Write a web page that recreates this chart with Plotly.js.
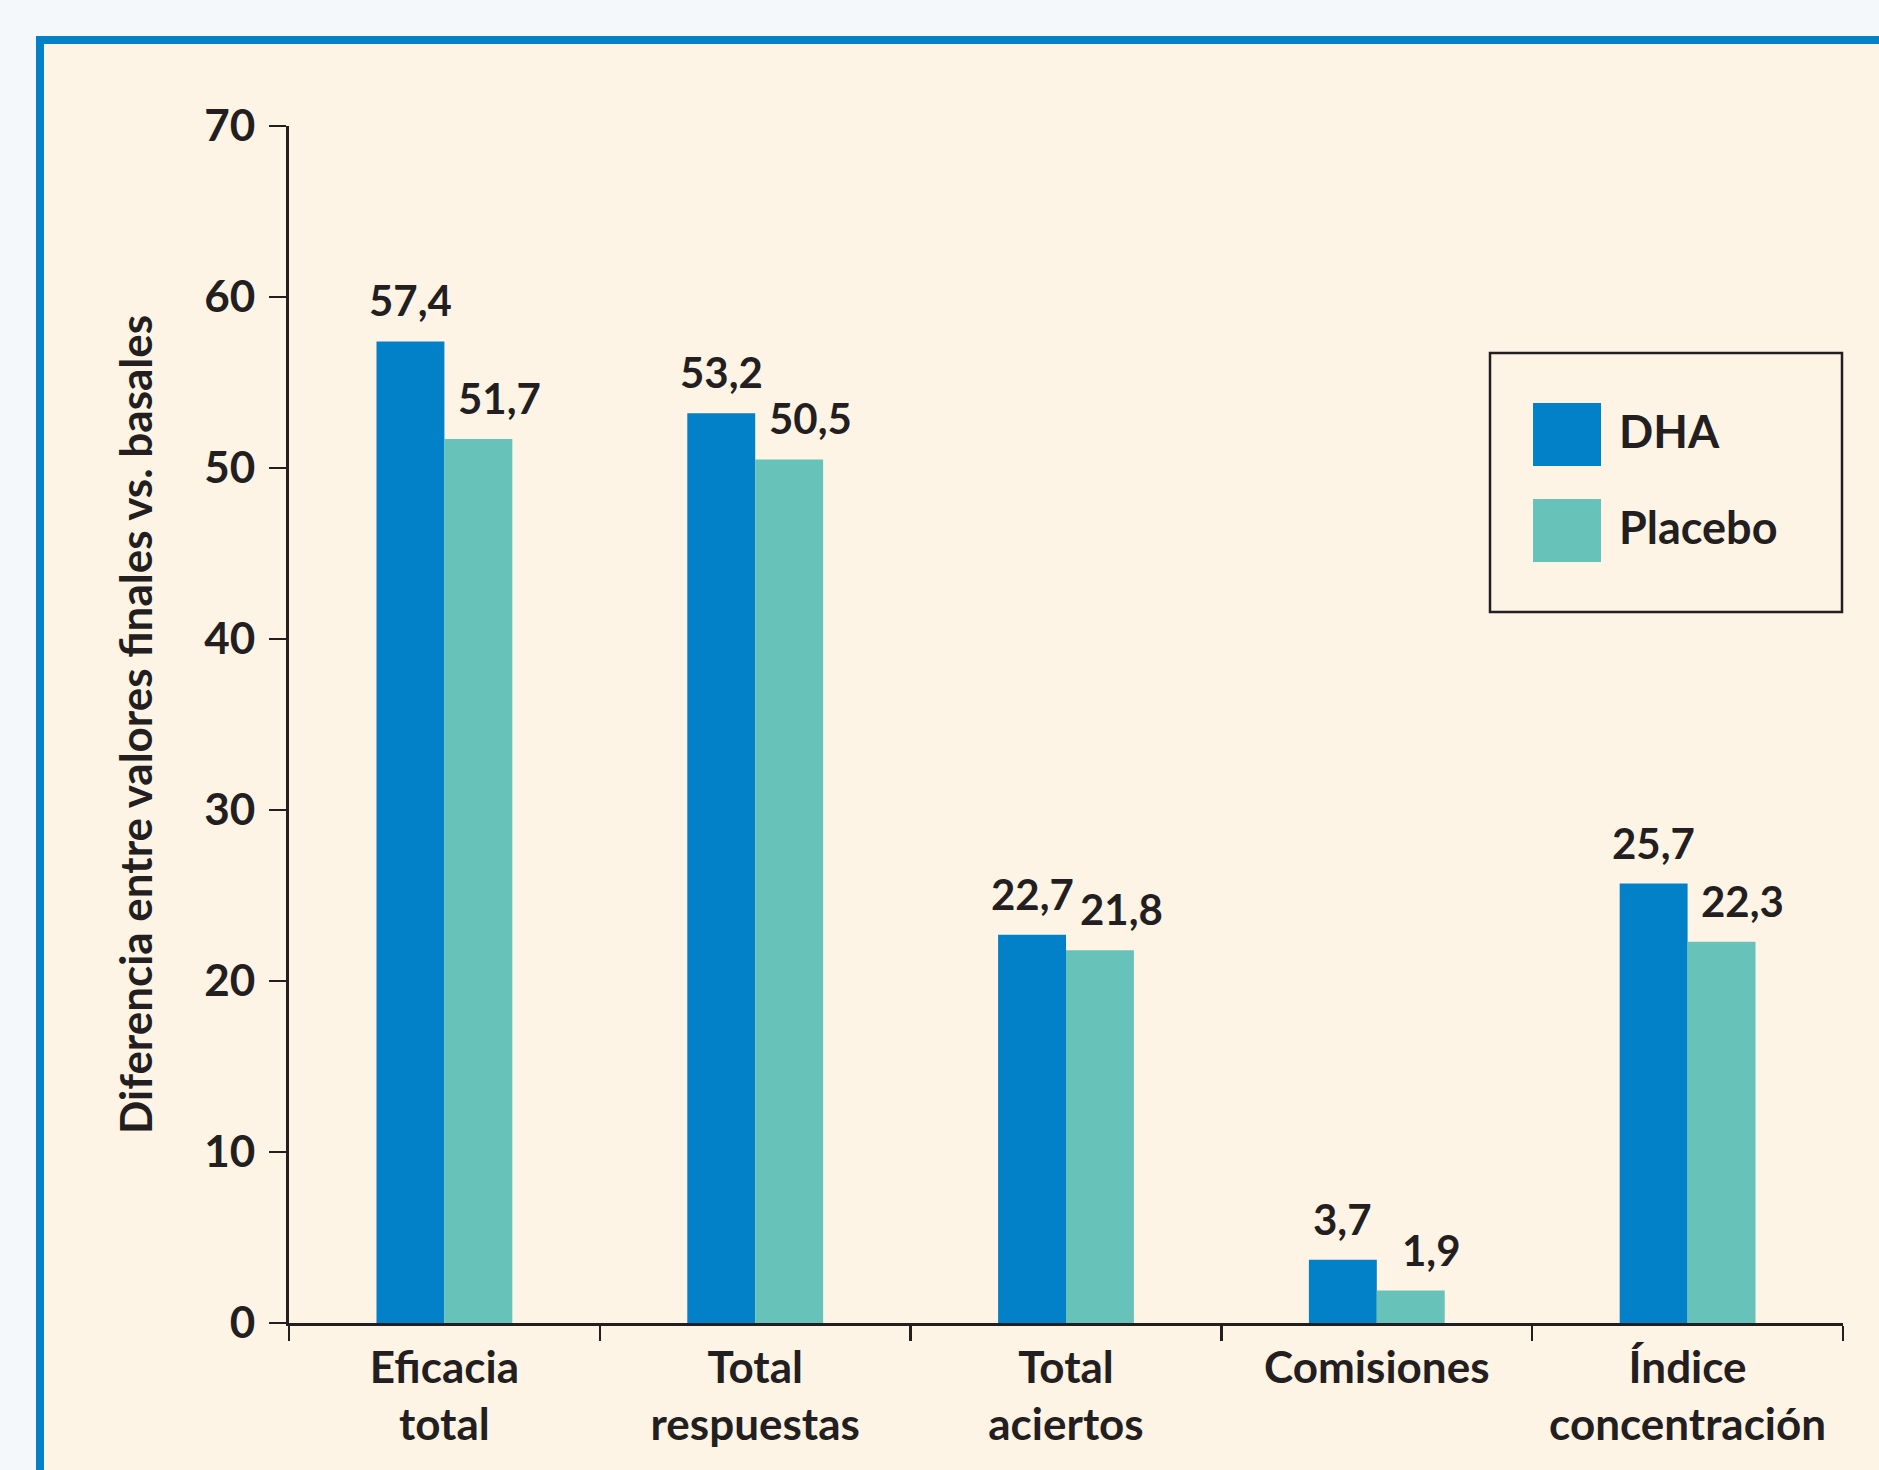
<!DOCTYPE html>
<html>
<head>
<meta charset="utf-8">
<script src="https://cdn.plot.ly/plotly-3.0.1.min.js"></script>
<style>
  html, body { margin:0; padding:0; width:1879px; height:1470px; overflow:hidden; background:#f4f8fb; }
  #frame { position:absolute; left:36px; top:36px; width:1900px; height:1500px; border:8px solid #0281c9; background:#fef4e6; box-sizing:border-box; }
  #chart { position:absolute; left:0; top:0; width:1879px; height:1470px; }
</style>
</head>
<body>
<div id="frame"></div>
<div id="chart"></div>
<script>
// ---- data ----
const categories = ["Eficacia<br>total", "Total<br>respuestas", "Total<br>aciertos", "Comisiones", "Índice<br>concentración"];
const seriesNames = ["DHA", "Placebo"];
const dhaValues = [57.4, 53.2, 22.7, 3.7, 25.7];
const placeboValues = [51.7, 50.5, 21.8, 1.9, 22.3];
const yTickValues = [0, 10, 20, 30, 40, 50, 60, 70];

// ---- style ----
const colors = ["#0281c9", "#67c2ba"];
const ink = "#231f20";
const FONT = "Lato, 'Open Sans', sans-serif";
const W = 1879, H = 1470;
const M = { l: 289, r: 36, t: 126, b: 147 };
const pw = W - M.l - M.r, ph = H - M.t - M.b;
const px = x => (x - M.l) / pw;
const py = y => (H - M.b - y) / ph;

const seriesValues = [dhaValues, placeboValues];
const traces = seriesValues.map((vals, s) => ({
  type: "bar",
  name: seriesNames[s],
  x: categories,
  y: vals,
  marker: { color: colors[s], line: { width: 0 } },
  hoverinfo: "skip"
}));

const annotations = [];
seriesValues.forEach((vals, s) => {
  vals.forEach((v, i) => {
    annotations.push({
      x: categories[i], y: v, xref: "x", yref: "y",
      text: v.toFixed(1).replace(".", ","),
      showarrow: false,
      xanchor: "center", yanchor: "bottom",
      xshift: s === 0 ? -34 : 55,
      yshift: 14,
      font: { family: FONT, size: 42, color: ink, weight: 700 }
    });
  });
});

// custom legend
const shapes = [
  { type: "rect", xref: "paper", yref: "paper", x0: px(1490), x1: px(1842), y0: py(612), y1: py(353),
    line: { color: ink, width: 2.5 }, fillcolor: "rgba(0,0,0,0)" }
];
const legendRows = [{ y0: 403, y1: 466 }, { y0: 499, y1: 562 }];
seriesNames.forEach((n, s) => {
  shapes.push({ type: "rect", xref: "paper", yref: "paper",
    x0: px(1533), x1: px(1601), y0: py(legendRows[s].y1), y1: py(legendRows[s].y0),
    line: { width: 0 }, fillcolor: colors[s] });
  annotations.push({ xref: "paper", yref: "paper", x: px(1617), y: py((legendRows[s].y0 + legendRows[s].y1) / 2 - 4),
    text: n, showarrow: false, xanchor: "left", yanchor: "middle",
    font: { family: FONT, size: 45, color: ink, weight: 700 } });
});

const layout = {
  width: W, height: H,
  margin: { l: M.l, r: M.r, t: M.t, b: M.b, pad: 0 },
  paper_bgcolor: "rgba(0,0,0,0)",
  plot_bgcolor: "rgba(0,0,0,0)",
  showlegend: false,
  barmode: "group",
  bargap: 0.563,
  bargroupgap: 0,
  font: { family: FONT, color: ink },
  xaxis: {
    type: "category",
    range: [-0.5, 4.5],
    showline: true, linecolor: ink, linewidth: 3,
    ticks: "outside", tickson: "boundaries", ticklen: 15, tickwidth: 2.5, tickcolor: ink,
    showgrid: false, zeroline: false,
    tickfont: { family: FONT, size: 44, color: ink, weight: 700 },
    ticklabelstandoff: 4
  },
  yaxis: {
    range: [0, 70],
    tickvals: yTickValues,
    showline: true, linecolor: ink, linewidth: 3,
    ticks: "outside", ticklen: 17, tickwidth: 2.5, tickcolor: ink,
    showgrid: false, zeroline: false,
    tickfont: { family: FONT, size: 44, color: ink, weight: 700 },
    ticklabelstandoff: 5,
    title: { text: "Diferencia entre valores finales vs. basales", standoff: 38,
      font: { family: FONT, size: 44, color: ink, weight: 700 } }
  },
  shapes: shapes,
  annotations: annotations
};

Plotly.newPlot("chart", traces, layout, { displayModeBar: false, staticPlot: true });
</script>
</body>
</html>
